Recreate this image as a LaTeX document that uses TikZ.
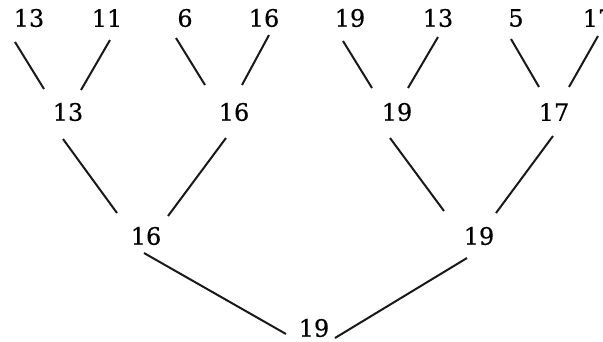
\documentclass[tikz,border=0pt]{standalone}
\usepackage{fontspec}
\setmainfont{DejaVu Serif}
\newfontfamily\numfont[FakeBold=0.3]{DejaVu Serif}
\usetikzlibrary{calc}
\begin{document}
\begin{tikzpicture}[x=1pt,y=-1pt,
  num/.style={inner sep=0pt,font=\numfont\fontsize{24}{28}\selectfont},
  edge/.style={line width=2pt,black!90}]
\useasboundingbox (0,0) rectangle (603,341);
% leaves
\node[num] (t1) at (29,18) {13};
\node[num] (t2) at (107,18) {11};
\node[num] (t3) at (185,18) {6};
\node[num] (t4) at (264,18) {16};
\node[num] (t5) at (350,18) {19};
\node[num] (t6) at (438,18) {13};
\node[num] (t7) at (516,18) {5};
\node[num] (t8) at (598,18) {17};
% second level
\node[num] (m1) at (68,112) {13};
\node[num] (m2) at (234,112) {16};
\node[num] (m3) at (397,112) {19};
\node[num] (m4) at (554,112) {17};
% third level
\node[num] (b1) at (146,236) {16};
\node[num] (b2) at (479,236) {19};
% root
\node[num] (r) at (314,328) {19};
% connectors
\draw[edge] ($(t1)+(-14,24)$) -- ($(m1)+(-24,-23)$);
\draw[edge] ($(t2)+(3,22)$) -- ($(m1)+(13,-22)$);
\draw[edge] ($(t3)+(-9,20)$) -- ($(m2)+(-29,-27)$);
\draw[edge] ($(t4)+(5,17)$) -- ($(m2)+(8,-27)$);
\draw[edge] ($(t5)+(-7,23)$) -- ($(m3)+(-25,-24)$);
\draw[edge] ($(t6)+(0,19)$) -- ($(m3)+(11,-24)$);
\draw[edge] ($(t7)+(-5,21)$) -- ($(m4)+(-15,-25)$);
\draw[edge] ($(t8)+(0,18)$) -- ($(m4)+(15,-25)$);
\draw[edge] ($(m1)+(-5,27)$) -- ($(b1)+(-29,-23)$);
\draw[edge] ($(m2)+(-8,26)$) -- ($(b1)+(22,-20)$);
\draw[edge] ($(m3)+(-7,26)$) -- ($(b2)+(-35,-25)$);
\draw[edge] ($(m4)+(-1,24)$) -- ($(b2)+(17,-23)$);
\draw[edge] ($(b1)+(-2,17)$) -- ($(r)+(-28,6)$);
\draw[edge] ($(b2)+(-12,22)$) -- ($(r)+(21,10)$);
\end{tikzpicture}
\end{document}
